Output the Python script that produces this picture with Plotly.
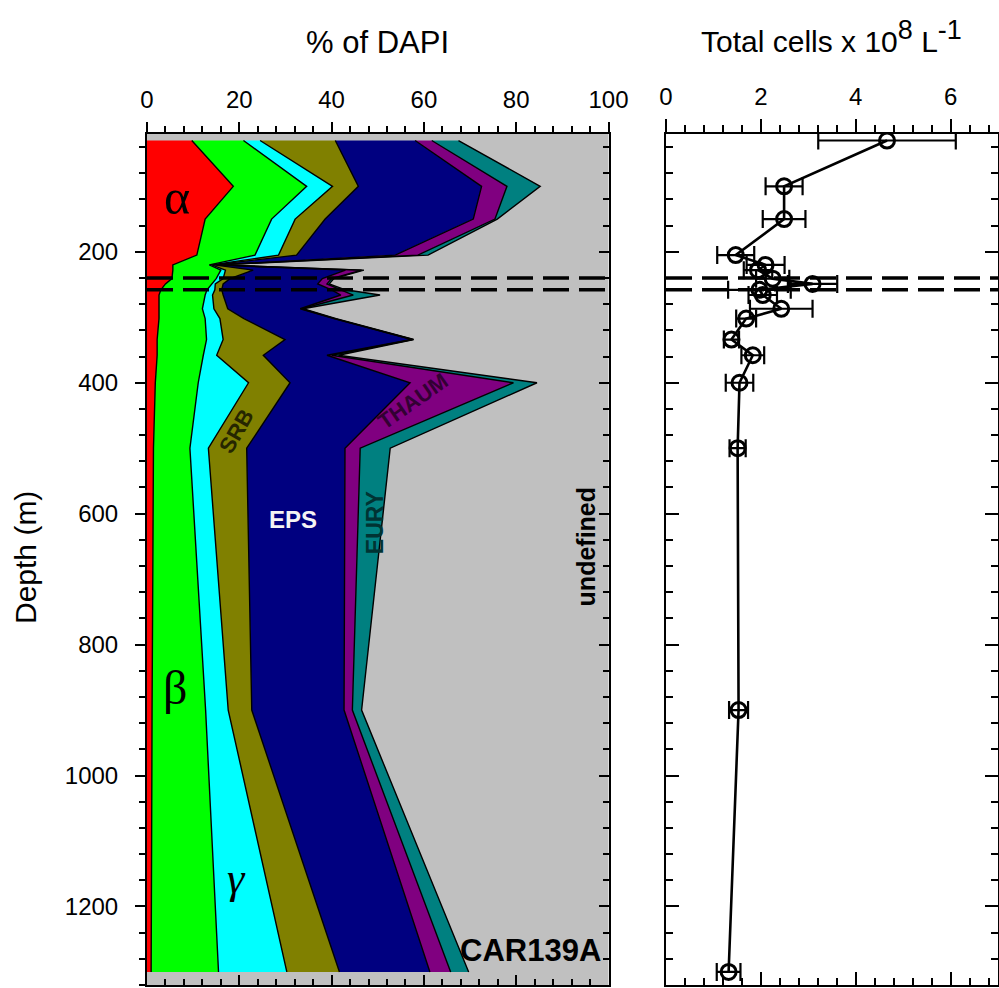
import numpy as np
import plotly.graph_objects as go

# Sampling depths (m), shared by the community profile and the cell counts
depth = [30, 100, 150, 205, 220, 228, 241, 249, 258, 266, 287, 302, 334, 358, 400, 500, 900, 1300]

# Community composition, % of DAPI counts per group
alpha = [9.7, 18.7, 12.6, 10.8, 5.6, 5.6, 5.4, 4.0, 3.0, 2.6, 2.6, 2.6, 2.2, 2.2, 1.8, 1.4, 1.1, 0.9]
beta = [11.2, 15.9, 14.4, 12.6, 7.9, 10.4, 9.6, 10.0, 10.0, 10.0, 9.4, 10.0, 10.7, 10.0, 9.3, 7.9, 11.6, 14.6]
gamma = [3.6, 5.6, 5.1, 5.1, 0.5, 1.0, 1.5, 0.8, 1.7, 1.6, 2.5, 3.2, 3.6, 2.9, 10.9, 4.0, 4.9, 14.8]
srb = [16.3, 5.6, 6.5, 3.9, 0.5, 6.0, 1.5, 1.7, 1.5, 2.3, 3.0, 5.2, 13.4, 10.1, 9.0, 8.3, 5.1, 11.4]
eps = [17.3, 26.7, 32.1, 21.4, 0.5, 20.0, 20.0, 20.5, 23.8, 25.5, 15.7, 19.5, 27.5, 13.8, 26.0, 21.3, 20.0, 19.6]
thaum = [3.6, 5.5, 4.7, 4.9, 0.2, 3.5, 2.0, 2.0, 2.0, 2.7, 0.3, 0.2, 0.2, 1.0, 22.4, 3.3, 1.8, 4.5]
eury = [5.8, 7.2, 0.5, 2.2, 0.2, 0.5, 0.5, 0.5, 1.0, 5.8, 0.3, 0.3, 0.2, 1.5, 5.1, 6.5, 2.0, 3.9]

# Total cell counts (x 10^8 per litre) and their standard deviations
cells = [4.66, 2.49, 2.49, 1.47, 2.10, 1.94, 2.25, 3.09, 1.97, 2.04, 2.43, 1.69, 1.38, 1.83, 1.55, 1.51, 1.53, 1.32]
cells_sd = [1.45, 0.39, 0.45, 0.39, 0.40, 0.30, 0.35, 0.52, 0.66, 0.30, 0.66, 0.21, 0.16, 0.24, 0.29, 0.17, 0.20, 0.25]

# Depths of the redox interface marked across both panels
interface_depths = [240, 258]

groups = [alpha, beta, gamma, srb, eps, thaum, eury]
colors = ["#ff0000", "#00ff00", "#00ffff", "#808000", "#000080", "#800080", "#008080"]

FONT = "Liberation Sans, Arial, sans-serif"
SERIF = "Liberation Serif, Times New Roman, serif"

fig = go.Figure()

# stacked profile: fill each layer between its lower and upper cumulative bound
cum = np.cumsum(np.array(groups), axis=0)
lower = np.zeros(len(depth))
for upper, col in zip(cum, colors):
    xs = list(upper) + list(lower[::-1])
    ys = list(depth) + list(depth[::-1])
    fig.add_trace(go.Scatter(x=xs, y=ys, fill="toself", fillcolor=col, mode="none",
                             hoverinfo="skip", showlegend=False, xaxis="x", yaxis="y"))
    lower = upper

# black boundaries between layers
for upper in cum:
    fig.add_trace(go.Scatter(x=upper, y=depth, mode="lines", line=dict(color="black", width=1.4),
                             hoverinfo="skip", showlegend=False, xaxis="x", yaxis="y"))

# cell count profile
fig.add_trace(go.Scatter(
    x=cells, y=depth, mode="lines+markers",
    line=dict(color="black", width=2.6),
    marker=dict(symbol="circle-open", size=15, color="black", line=dict(width=3, color="black")),
    error_x=dict(type="data", array=cells_sd, color="black", thickness=2.2, width=9),
    showlegend=False, xaxis="x2", yaxis="y2"))

# empty traces to register the mirrored (inward-tick) axes
for xa, ya in [("x3", "y"), ("x", "y3"), ("x4", "y2"), ("x2", "y4")]:
    fig.add_trace(go.Scatter(x=[None], y=[None], mode="markers", showlegend=False,
                             hoverinfo="skip", xaxis=xa, yaxis=ya))

YDOM = [0.003, 0.8644]
LDOM = [147 / 999, 608.5 / 999]
RDOM = [666 / 999, 998 / 999]
DRANGE = [1320, 20]
tickfont = dict(family=FONT, size=24, color="black")

def xax(dom, rng, dtick, mdtick, side, ticks, labels, tl, mtl, overlay=None, anchor=None):
    d = dict(domain=dom, range=rng, side=side, ticks=ticks, ticklen=tl, tickwidth=2,
             tickcolor="black", dtick=dtick, tick0=0, showticklabels=labels,
             tickfont=tickfont, showline=True, linecolor="black", linewidth=2,
             showgrid=False, zeroline=False, anchor=anchor, ticklabelstandoff=4,
             automargin=False,
             minor=dict(dtick=mdtick, tick0=0, ticks=ticks, ticklen=mtl, tickwidth=1.5,
                        tickcolor="black", showgrid=False))
    if overlay:
        d["overlaying"] = overlay
    return d

def yax(rng, side, ticks, labels, tl, mtl, anchor, overlay=None):
    d = dict(domain=YDOM, range=rng, side=side, ticks=ticks, ticklen=tl, tickwidth=2,
             tickcolor="black", dtick=200, tick0=0, showticklabels=labels,
             tickfont=tickfont, showline=True, linecolor="black", linewidth=2,
             showgrid=False, zeroline=False, anchor=anchor, ticklabelstandoff=12,
             automargin=False,
             minor=dict(dtick=40, tick0=0, ticks=ticks, ticklen=mtl, tickwidth=1.5,
                        tickcolor="black", showgrid=False))
    if overlay:
        d["overlaying"] = overlay
    return d

fig.update_layout(
    width=999, height=988,
    margin=dict(l=0, r=0, t=0, b=0, pad=0),
    paper_bgcolor="white",
    plot_bgcolor="#c0c0c0",
    showlegend=False,
    xaxis=xax(LDOM, [0, 100], 20, 4, "top", "outside", True, 10, 6, anchor="y"),
    xaxis3=xax(LDOM, [0, 100], 20, 4, "bottom", "inside", False, 10, 6, overlay="x", anchor="y"),
    yaxis=yax(DRANGE, "left", "outside", True, 10, 6, "x"),
    yaxis3=yax(DRANGE, "right", "inside", False, 10, 6, "x", overlay="y"),
    xaxis2=xax(RDOM, [0, 7], 2, 0.4, "top", "outside", True, 13, 7, anchor="y2"),
    xaxis4=xax(RDOM, [0, 7], 2, 0.4, "bottom", "inside", False, 13, 7, overlay="x2", anchor="y2"),
    yaxis2=yax(DRANGE, "left", "inside", False, 13, 7, "x2"),
    yaxis4=yax(DRANGE, "right", "inside", False, 13, 7, "x2", overlay="y2"),
)

# the right panel sits on a white background
fig.add_shape(type="rect", xref="x2 domain", yref="y2 domain", x0=0, x1=1, y0=0, y1=1,
              fillcolor="white", line=dict(width=0), layer="below")

# dashed redox-interface lines
for d in interface_depths:
    for xr, yr in [("x domain", "y"), ("x2 domain", "y2")]:
        fig.add_shape(type="line", xref=xr, yref=yr, x0=0, x1=1, y0=d, y1=d,
                      line=dict(color="black", width=3.5, dash="26px,10px"), layer="above")

# in-plot labels
labels = [
    ("α", 6.5, 117, SERIF, 50, "black", 0, False),
    ("β", 6.0, 865, SERIF, 48, "black", 0, False),
    ("<i>γ</i>", 19.4, 1158, SERIF, 44, "black", 0, False),
    ("SRB", 19.3, 474, FONT, 22, "#262600", -60, True),
    ("THAUM", 57.5, 428, FONT, 22, "#330033", -35, True),
    ("EPS", 31.6, 609, FONT, 24, "#f4f4f4", 0, True),
    ("EURY", 49.4, 613, FONT, 23, "#003333", -90, True),
    ("undefined", 95.2, 651, FONT, 25, "black", -90, True),
    ("CAR139A", 83.0, 1268, FONT, 31, "black", 0, True),
]
for txt, x, y, fam, size, col, ang, bold in labels:
    fig.add_annotation(x=x, y=y, xref="x", yref="y", text=f"<b>{txt}</b>" if bold else txt,
                       showarrow=False, textangle=ang, xanchor="center", yanchor="middle",
                       font=dict(family=fam, size=size, color=col))

# axis titles
fig.add_annotation(x=377 / 999, y=1 - 42 / 988, xref="paper", yref="paper", text="% of DAPI",
                   xanchor="center", yanchor="middle",
                   showarrow=False, font=dict(family=FONT, size=31, color="black"))
fig.add_annotation(x=831 / 999, y=1 - 36 / 988, xref="paper", yref="paper",
                   text="Total cells x 10<sup><span style='font-size:27px'>8</span></sup>"
                        " L<sup><span style='font-size:27px'>-1</span></sup>",
                   xanchor="center", yanchor="middle",
                   showarrow=False, font=dict(family=FONT, size=30, color="black"))
fig.add_annotation(x=25 / 999, y=1 - 558 / 988, xref="paper", yref="paper", text="Depth (m)",
                   textangle=-90, xanchor="center", yanchor="middle",
                   showarrow=False, font=dict(family=FONT, size=30, color="black"))

fig.write_html("out.html")
